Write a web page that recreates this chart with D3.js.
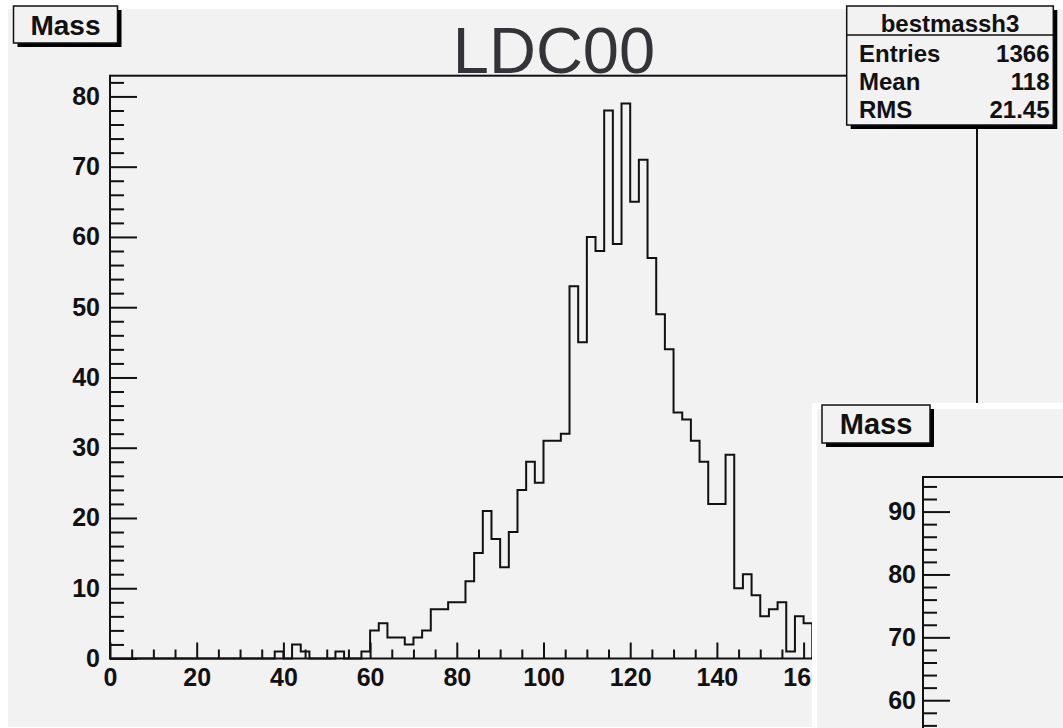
<!DOCTYPE html>
<html>
<head>
<meta charset="utf-8">
<script src="https://cdn.jsdelivr.net/npm/d3@7/dist/d3.min.js"></script>
<style>
  html, body { margin: 0; padding: 0; background: #ffffff; }
  svg { display: block; }
  text { font-family: "Liberation Sans", Arial, Helvetica, sans-serif; }
</style>
</head>
<body>
<svg id="chart" width="1063" height="728"></svg>
<script>
// Histogram "bestmassh3": 2 GeV wide bins starting at 0 (bins 0..80 shown)
const binWidth = 2;
const counts = [
  0, 0, 0, 0, 0, 0, 0, 0, 0, 0,
  0, 0, 0, 0, 0, 0, 0, 0, 0, 1,
  0, 2, 1, 0, 0, 0, 1, 0, 0, 1,
  4, 5, 3, 3, 2, 3, 4, 7, 7, 8,
  8, 11, 15, 21, 17, 13, 18, 24, 28, 25,
  31, 31, 32, 53, 45, 60, 58, 78, 59, 79,
  65, 71, 57, 49, 44, 35, 34, 31, 28, 22,
  22, 29, 10, 12, 9, 6, 7, 8, 1, 6,
  5
];
const binLowEdges = counts.map((_, i) => i * binWidth);

// Axis ranges and tick labels
const xDomain = [0, 200];
const yDomain = [0, 82.95];
const xMajorTicks = [0, 20, 40, 60, 80, 100, 120, 140, 160];
const yMajorTicks = [0, 10, 20, 30, 40, 50, 60, 70, 80];
const y2Domain = [0, 95.5];
const y2MajorTicks = [60, 70, 80, 90];

// Stats box contents
const histName = "bestmassh3";
const statLabels = ["Entries", "Mean", "RMS"];
const statValues = ["1366", "118", "21.45"];
const titleText = "LDC00";
const axisTitle = "Mass";

const svg = d3.select("#chart");
const ink = "#111111";
const padFill = "#f2f2f2";

// ---- Main pad ----
svg.append("rect").attr("x", 8).attr("y", 9).attr("width", 1055).attr("height", 718)
  .attr("fill", padFill);

const frame = { left: 110, top: 75.7, right: 977, bottom: 658.5 };
const x = d3.scaleLinear().domain(xDomain).range([frame.left, frame.right]);
const y = d3.scaleLinear().domain(yDomain).range([frame.bottom, frame.top]);

// Minor / major ticks on x
const xMinor = d3.range(0, 166, 5).filter(v => !xMajorTicks.includes(v));
svg.append("g").attr("transform", `translate(0,${frame.bottom})`)
  .call(d3.axisBottom(x).tickValues(xMinor).tickSizeInner(-9).tickSizeOuter(0).tickFormat(""))
  .call(g => g.select(".domain").remove())
  .call(g => g.selectAll("line").attr("stroke", ink).attr("stroke-width", 2));

svg.append("g").attr("transform", `translate(0,${frame.bottom})`)
  .call(d3.axisBottom(x).tickValues(xMajorTicks).tickSizeInner(-16).tickSizeOuter(0).tickPadding(10).tickFormat(d3.format("d")))
  .call(g => g.select(".domain").remove())
  .call(g => g.selectAll("line").attr("stroke", ink).attr("stroke-width", 2))
  .call(g => g.selectAll("text").attr("fill", ink).attr("font-size", 25).attr("font-weight", "bold")
    .attr("font-family", "Liberation Sans, Arial, sans-serif"));

// Minor / major ticks on y
const yMinor = d3.range(0, 83, 2).filter(v => !yMajorTicks.includes(v));
svg.append("g").attr("transform", `translate(${frame.left},0)`)
  .call(d3.axisLeft(y).tickValues(yMinor).tickSizeInner(-14).tickSizeOuter(0).tickFormat(""))
  .call(g => g.select(".domain").remove())
  .call(g => g.selectAll("line").attr("stroke", ink).attr("stroke-width", 2));

svg.append("g").attr("transform", `translate(${frame.left},0)`)
  .call(d3.axisLeft(y).tickValues(yMajorTicks).tickSizeInner(-27).tickSizeOuter(0).tickPadding(10).tickFormat(d3.format("d")))
  .call(g => g.select(".domain").remove())
  .call(g => g.selectAll("line").attr("stroke", ink).attr("stroke-width", 2))
  .call(g => g.selectAll("text").attr("fill", ink).attr("font-size", 25).attr("font-weight", "bold")
    .attr("font-family", "Liberation Sans, Arial, sans-serif"));

// Histogram outline as a step path
const pts = [[binLowEdges[0], 0]];
counts.forEach((c, i) => {
  pts.push([binLowEdges[i], c]);
  pts.push([binLowEdges[i] + binWidth, c]);
});
pts.push([binLowEdges[binLowEdges.length - 1] + binWidth, 0]);
svg.append("path")
  .attr("d", d3.line().x(d => x(d[0])).y(d => y(d[1]))(pts))
  .attr("fill", "none").attr("stroke", ink).attr("stroke-width", 2)
  .attr("stroke-linejoin", "miter");

// Frame
svg.append("rect")
  .attr("x", frame.left).attr("y", frame.top)
  .attr("width", frame.right - frame.left).attr("height", frame.bottom - frame.top)
  .attr("fill", "none").attr("stroke", ink).attr("stroke-width", 2);

// Title
svg.append("text").attr("x", 554).attr("y", 72.5).attr("text-anchor", "middle")
  .attr("font-size", 65).attr("fill", "#333338").text(titleText);

// Axis-title box with drop shadow
function labelBox(bx, by, bw, bh, size) {
  svg.append("rect").attr("x", bx + 4).attr("y", by + 4).attr("width", bw).attr("height", bh).attr("fill", "#000");
  svg.append("rect").attr("x", bx).attr("y", by).attr("width", bw).attr("height", bh)
    .attr("fill", padFill).attr("stroke", ink).attr("stroke-width", 1.5);
  svg.append("text").attr("x", bx + bw / 2).attr("y", by + bh / 2 + size * 0.36)
    .attr("text-anchor", "middle").attr("font-size", size).attr("font-weight", "bold")
    .attr("fill", ink).text(axisTitle);
}
labelBox(13.5, 6, 104, 37, 28);

// Stats box
const sb = { x: 846.7, y: 6, w: 206.6, h: 119 };
svg.append("rect").attr("x", sb.x + 4).attr("y", sb.y + 4).attr("width", sb.w).attr("height", sb.h).attr("fill", "#000");
svg.append("rect").attr("x", sb.x).attr("y", sb.y).attr("width", sb.w).attr("height", sb.h)
  .attr("fill", padFill).attr("stroke", ink).attr("stroke-width", 1.5);
svg.append("line").attr("x1", sb.x).attr("x2", sb.x + sb.w).attr("y1", 35).attr("y2", 35)
  .attr("stroke", ink).attr("stroke-width", 1.5);
svg.append("text").attr("x", sb.x + sb.w / 2).attr("y", 31.5).attr("text-anchor", "middle")
  .attr("font-size", 24).attr("font-weight", "bold").attr("fill", ink).text(histName);
const rowBase = [61.5, 89.5, 118];
statLabels.forEach((lab, i) => {
  svg.append("text").attr("x", 859).attr("y", rowBase[i]).attr("font-size", 24)
    .attr("font-weight", "bold").attr("fill", ink).text(lab);
  svg.append("text").attr("x", 1049.5).attr("y", rowBase[i]).attr("text-anchor", "end")
    .attr("font-size", 24).attr("font-weight", "bold").attr("fill", ink).text(statValues[i]);
});

// ---- Second pad (overlapping, lower right) ----
svg.append("rect").attr("x", 812).attr("y", 403).attr("width", 251).attr("height", 325).attr("fill", "#ffffff");
svg.append("rect").attr("x", 817).attr("y", 409).attr("width", 246).attr("height", 319).attr("fill", padFill);

const frame2 = { left: 923, top: 477 };
const y2 = d3.scaleLinear().domain(y2Domain).range([1077.5, frame2.top]);

const y2Minor = d3.range(54, 96, 2).filter(v => !y2MajorTicks.includes(v));
svg.append("g").attr("transform", `translate(${frame2.left},0)`)
  .call(d3.axisLeft(y2).tickValues(y2Minor).tickSizeInner(-14).tickSizeOuter(0).tickFormat(""))
  .call(g => g.select(".domain").remove())
  .call(g => g.selectAll("line").attr("stroke", ink).attr("stroke-width", 2));
svg.append("g").attr("transform", `translate(${frame2.left},0)`)
  .call(d3.axisLeft(y2).tickValues(y2MajorTicks).tickSizeInner(-27).tickSizeOuter(0).tickPadding(7).tickFormat(d3.format("d")))
  .call(g => g.select(".domain").remove())
  .call(g => g.selectAll("line").attr("stroke", ink).attr("stroke-width", 2))
  .call(g => g.selectAll("text").attr("fill", ink).attr("font-size", 25).attr("font-weight", "bold")
    .attr("font-family", "Liberation Sans, Arial, sans-serif"));

svg.append("path")
  .attr("d", `M1063,${frame2.top}H${frame2.left}V728`)
  .attr("fill", "none").attr("stroke", ink).attr("stroke-width", 2);

labelBox(822, 405, 108, 38, 29);
</script>
</body>
</html>
